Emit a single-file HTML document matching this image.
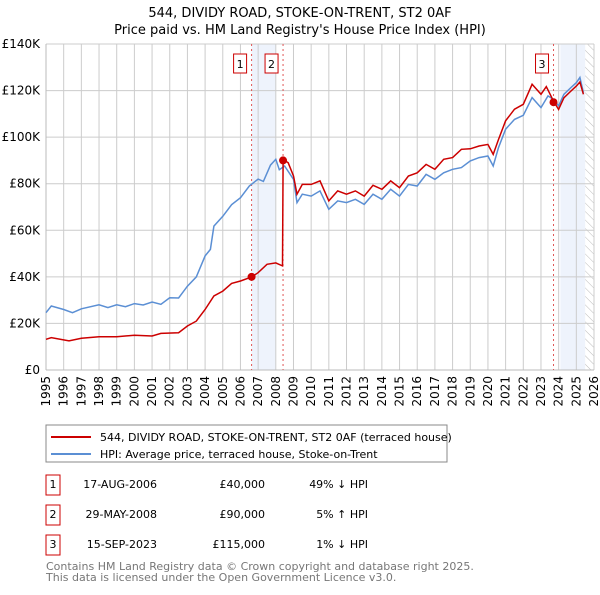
<!DOCTYPE html>
<html><head><meta charset="utf-8"><style>
body{margin:0;background:#fff;font-family:"Liberation Sans","DejaVu Sans",sans-serif;}
svg text{font-family:"DejaVu Sans","Liberation Sans",sans-serif;}
</style></head><body>
<svg id="c" width="600" height="590" viewBox="0 0 600 590">
<defs><pattern id="hatch" width="6" height="6" patternUnits="userSpaceOnUse" patternTransform="rotate(-45)"><line x1="0" y1="0" x2="0" y2="6" stroke="#bbb" stroke-width="1"/></pattern></defs>
<text x="300" y="17" text-anchor="middle" font-size="13">544, DIVIDY ROAD, STOKE-ON-TRENT, ST2 0AF</text>
<text x="300" y="34" text-anchor="middle" font-size="13">Price paid vs. HM Land Registry's House Price Index (HPI)</text>
<g id="plot"></g>
<g>
<rect x="46" y="425" width="401" height="37" fill="#fff" stroke="#888"/>
<line x1="51" y1="437" x2="91" y2="437" stroke="#cc0000" stroke-width="2"/>
<text x="100" y="441" font-size="11">544, DIVIDY ROAD, STOKE-ON-TRENT, ST2 0AF (terraced house)</text>
<line x1="51" y1="454" x2="91" y2="454" stroke="#5b8fd4" stroke-width="2"/>
<text x="100" y="458" font-size="11">HPI: Average price, terraced house, Stoke-on-Trent</text>
</g>
<g font-size="11">
<rect x="46" y="475" width="14" height="20" fill="none" stroke="#cc0000"/><text x="53" y="488" text-anchor="middle">1</text>
<text x="157" y="488" text-anchor="end">17-AUG-2006</text><text x="265" y="488" text-anchor="end">£40,000</text><text x="368" y="488" text-anchor="end">49% ↓ HPI</text>
<rect x="46" y="505" width="14" height="20" fill="none" stroke="#cc0000"/><text x="53" y="518" text-anchor="middle">2</text>
<text x="157" y="518" text-anchor="end">29-MAY-2008</text><text x="265" y="518" text-anchor="end">£90,000</text><text x="368" y="518" text-anchor="end">5% ↑ HPI</text>
<rect x="46" y="535" width="14" height="20" fill="none" stroke="#cc0000"/><text x="53" y="548" text-anchor="middle">3</text>
<text x="157" y="548" text-anchor="end">15-SEP-2023</text><text x="265" y="548" text-anchor="end">£115,000</text><text x="368" y="548" text-anchor="end">1% ↓ HPI</text>
</g>
<text x="46" y="570" font-size="11" fill="#777">Contains HM Land Registry data © Crown copyright and database right 2025.</text>
<text x="46" y="581" font-size="11" fill="#777">This data is licensed under the Open Government Licence v3.0.</text>
</svg>
<script>
const hpiYears=[1995,1995.3,1996,1996.5,1997,1998,1998.5,1999,1999.5,2000,2000.5,2001,2001.5,2002,2002.5,2003,2003.5,2004,2004.3,2004.5,2005,2005.5,2006,2006.5,2007,2007.3,2007.7,2008,2008.2,2008.5,2009,2009.2,2009.5,2010,2010.5,2011,2011.5,2012,2012.5,2013,2013.5,2014,2014.5,2015,2015.5,2016,2016.5,2017,2017.5,2018,2018.5,2019,2019.5,2020,2020.3,2020.6,2021,2021.5,2022,2022.5,2023,2023.4,2023.7,2024,2024.3,2024.7,2025,2025.2,2025.4];
const hpiValues=[24.6,27.5,26,24.6,26.3,28,26.8,28,27.2,28.5,27.9,29.2,28.2,31,30.9,36,40,49,51.8,61.8,66,71,74,79,82,81,88,90.5,86,87.6,81.9,71.9,75.5,74.7,76.9,69,72.6,71.9,73.3,71.1,75.5,73.3,77.6,74.7,79.7,79,84,81.9,84.7,86.2,86.9,89.8,91.2,91.9,87.6,95.5,103.4,107.6,109.4,117,112.7,117.7,116.2,113.4,118.4,121.3,123.4,125.6,119.1];
const priceYears=[1995,1995.3,1996.3,1997,1998,1999,2000,2001,2001.5,2002.5,2003,2003.5,2004,2004.5,2005,2005.5,2006,2006.63,2007,2007.5,2008,2008.38,2008.41,2008.7,2009,2009.2,2009.5,2010,2010.5,2011,2011.5,2012,2012.5,2013,2013.5,2014,2014.5,2015,2015.5,2016,2016.5,2017,2017.5,2018,2018.5,2019,2019.5,2020,2020.3,2020.6,2021,2021.5,2022,2022.5,2023,2023.3,2023.71,2024,2024.3,2024.7,2025,2025.2,2025.4];
const priceValues=[13.2,13.9,12.5,13.6,14.3,14.3,14.9,14.6,15.7,16,18.9,21,26,31.8,33.9,37.2,38.2,40,41.8,45.4,46,44.7,90.4,89,83.3,75.5,79.7,79.7,81.2,72.6,76.9,75.5,76.9,74.7,79.3,77.6,81.2,78.3,83.3,84.7,88.3,86.2,90.5,91.2,94.8,95,96.2,96.9,92.6,99,107,112,114.1,122.7,118.4,121.7,115.5,111.9,116.9,119.8,121.9,123.7,118.4];
const saleYears=[2006.63,2008.41,2023.71];
const saleValues=[40,90,115];
const saleLabels=["1","2","3"];
const yTicks=[0,20,40,60,80,100,120,140];
const xTicks=[];for(let y=1995;y<=2026;y++)xTicks.push(y);

const X0=46,X1=594,Y0=370,Y1=44;
const x=v=>X0+(v-1995)/(2026-1995)*(X1-X0);
const y=v=>Y0-v/140*(Y0-Y1);
const NS="http://www.w3.org/2000/svg";
const g=document.getElementById('plot');
function mk(t,a){const e=document.createElementNS(NS,t);for(const k in a)e.setAttribute(k,a[k]);g.appendChild(e);return e;}

let r=mk('rect',{x:x(2006.63),y:Y1,width:x(2008.0)-x(2006.63),height:Y0-Y1,fill:'#eef3fc'});

r=mk('rect',{x:x(2024.1),y:Y1,width:x(2025.5)-x(2024.1),height:Y0-Y1,fill:'#eef3fc'});

r=mk('rect',{x:x(2025.5),y:Y1,width:X1-x(2025.5),height:Y0-Y1,fill:'url(#hatch)'});


xTicks.forEach(t=>{
 const l=mk('line',{x1:x(t),x2:x(t),y1:Y1,y2:Y0,stroke:'#ccc','stroke-width':1});
 
 const tx=mk('text',{x:0,y:0,'font-size':12,'text-anchor':'end',transform:`translate(${x(t)+4},${Y0+6}) rotate(-90)`});
 tx.textContent=t;
 
});
yTicks.forEach(t=>{
 const l=mk('line',{x1:X0,x2:X1,y1:y(t),y2:y(t),stroke:'#ccc','stroke-width':1});
 
 const tx=mk('text',{x:40,y:y(t)+4,'font-size':12,'text-anchor':'end'});
 tx.textContent=t===0?'£0':'£'+t+'K';
 
});
let ax=mk('line',{x1:X0,x2:X0,y1:Y1,y2:Y0,stroke:'#bbb'});

ax=mk('line',{x1:X0,x2:X1,y1:Y0,y2:Y0,stroke:'#bbb'});


saleYears.forEach((s,i)=>{
 const l=mk('line',{x1:x(s),x2:x(s),y1:Y1,y2:Y0,stroke:'#e05555','stroke-width':1,'stroke-dasharray':'2,3'});
 
 const b=mk('rect',{x:x(s)-18,y:54,width:13,height:19,fill:'#fff',stroke:'#cc0000'});
 
 const t=mk('text',{x:x(s)-11.5,y:68,'font-size':11,'text-anchor':'middle'});
 t.textContent=saleLabels[i];
 
});

const path=(xs,vs)=>xs.map((v,i)=>(i?'L':'M')+x(v).toFixed(1)+','+y(vs[i]).toFixed(1)).join('');
let p=mk('path',{d:path(hpiYears,hpiValues),fill:'none',stroke:'#5b8fd4','stroke-width':1.5});

p=mk('path',{d:path(priceYears,priceValues),fill:'none',stroke:'#cc0000','stroke-width':1.5});

saleYears.forEach((s,i)=>{
 const c=mk('circle',{cx:x(s),cy:y(saleValues[i]),r:4,fill:'#cc0000'});
 
});
</script>
</body></html>
